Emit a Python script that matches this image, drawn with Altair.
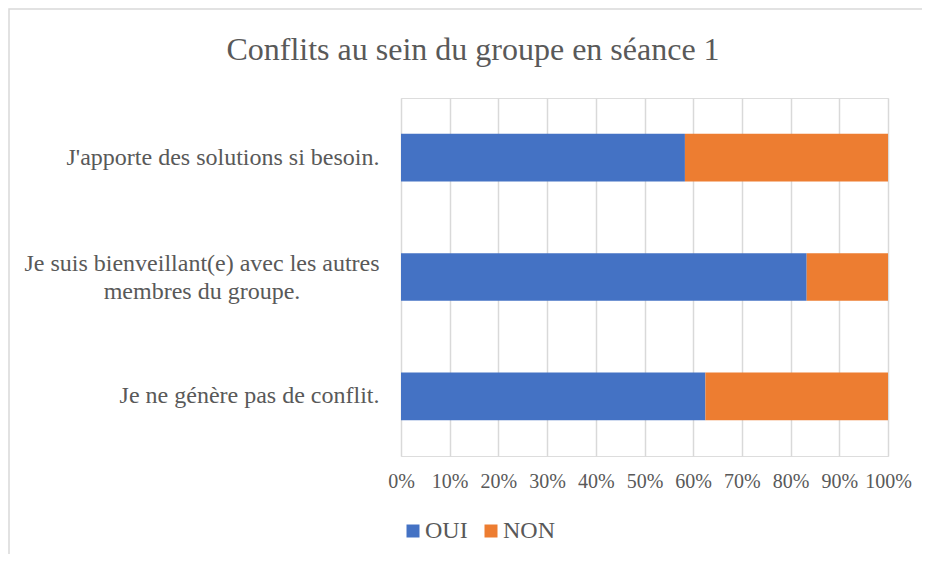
import altair as alt
import pandas as pd

categories = [
    "J'apporte des solutions si besoin.",
    "Je suis bienveillant(e) avec les autres\nmembres du groupe.",
    "Je ne génère pas de conflit.",
]
series = ["OUI", "NON"]
oui = [58.3, 83.3, 62.5]
non = [41.7, 16.7, 37.5]
colors = ["#4472C4", "#ED7D31"]
title_text = ["Conflits au sein du groupe en séance 1"]

rows = []
for c, o, n in zip(categories, oui, non):
    rows.append({"cat": c, "serie": "OUI", "val": o, "ord": 0})
    rows.append({"cat": c, "serie": "NON", "val": n, "ord": 1})
df = pd.DataFrame(rows)

multi = pd.DataFrame({"cat": [c for c in categories if "\n" in c]})

FONT = "Liberation Serif, Times New Roman, DejaVu Serif, serif"
GREY = "#595959"

yenc = alt.Y("cat:N", sort=categories,
             scale=alt.Scale(paddingInner=0.6, paddingOuter=0.3),
             axis=alt.Axis(title=None, grid=False, ticks=False, domain=False,
                           labelFontSize=24, labelFont=FONT, labelColor=GREY,
                           labelPadding=22, labelLimit=0,
                           labelExpr="indexof(datum.value, '\\n') >= 0 ? '' : datum.label"))

bars = alt.Chart(df).mark_bar().encode(
    y=yenc,
    x=alt.X("val:Q", stack="normalize",
            scale=alt.Scale(domain=[0, 1]),
            axis=alt.Axis(title=None, values=[i / 10 for i in range(11)], format=".0%",
                          grid=True, gridColor="#d9d9d9", gridWidth=1.5,
                          domain=False, ticks=False, labelFontSize=20, labelFont=FONT,
                          labelColor=GREY, labelPadding=15, labelFlush=False,
                          labelOverlap=False)),
    color=alt.Color("serie:N", scale=alt.Scale(domain=series, range=colors),
                    legend=alt.Legend(title=None, orient="none", direction="horizontal",
                                      legendX=0, legendY=421, symbolType="square",
                                      symbolSize=169, symbolStrokeWidth=0,
                                      labelFontSize=24, labelFont=FONT, labelColor=GREY,
                                      labelOffset=0, columnPadding=11, padding=0)),
    order=alt.Order("ord:Q"),
)

multi_label = alt.Chart(multi).mark_text(
    font=FONT, fontSize=24, color=GREY, align="center", baseline="middle",
    lineBreak="\n", lineHeight=28, dy=-13
).encode(y=alt.Y("cat:N", sort=categories), x=alt.value(-199), text="cat:N")

border = alt.Chart(pd.DataFrame({"a": [0]})).mark_rect(
    fill=None, stroke="#d9d9d9", strokeWidth=1.5
).encode(x=alt.value(-392), x2=alt.value(580), y=alt.value(-89), y2=alt.value(520))

title = alt.Chart(pd.DataFrame({"t": title_text})).mark_text(
    font=FONT, fontSize=32, color=GREY, align="center", baseline="alphabetic"
).encode(text="t:N", x=alt.value(72), y=alt.value(-38))

chart = alt.layer(border, bars, multi_label, title).properties(
    width=487, height=358,
    autosize=alt.AutoSizeParams(type="none"),
    padding={"left": 393, "top": 90, "right": 34, "bottom": 98},
).configure_view(stroke=None).configure(background="white")

chart.save("out.html", embed_options={"renderer": "svg", "actions": False})
